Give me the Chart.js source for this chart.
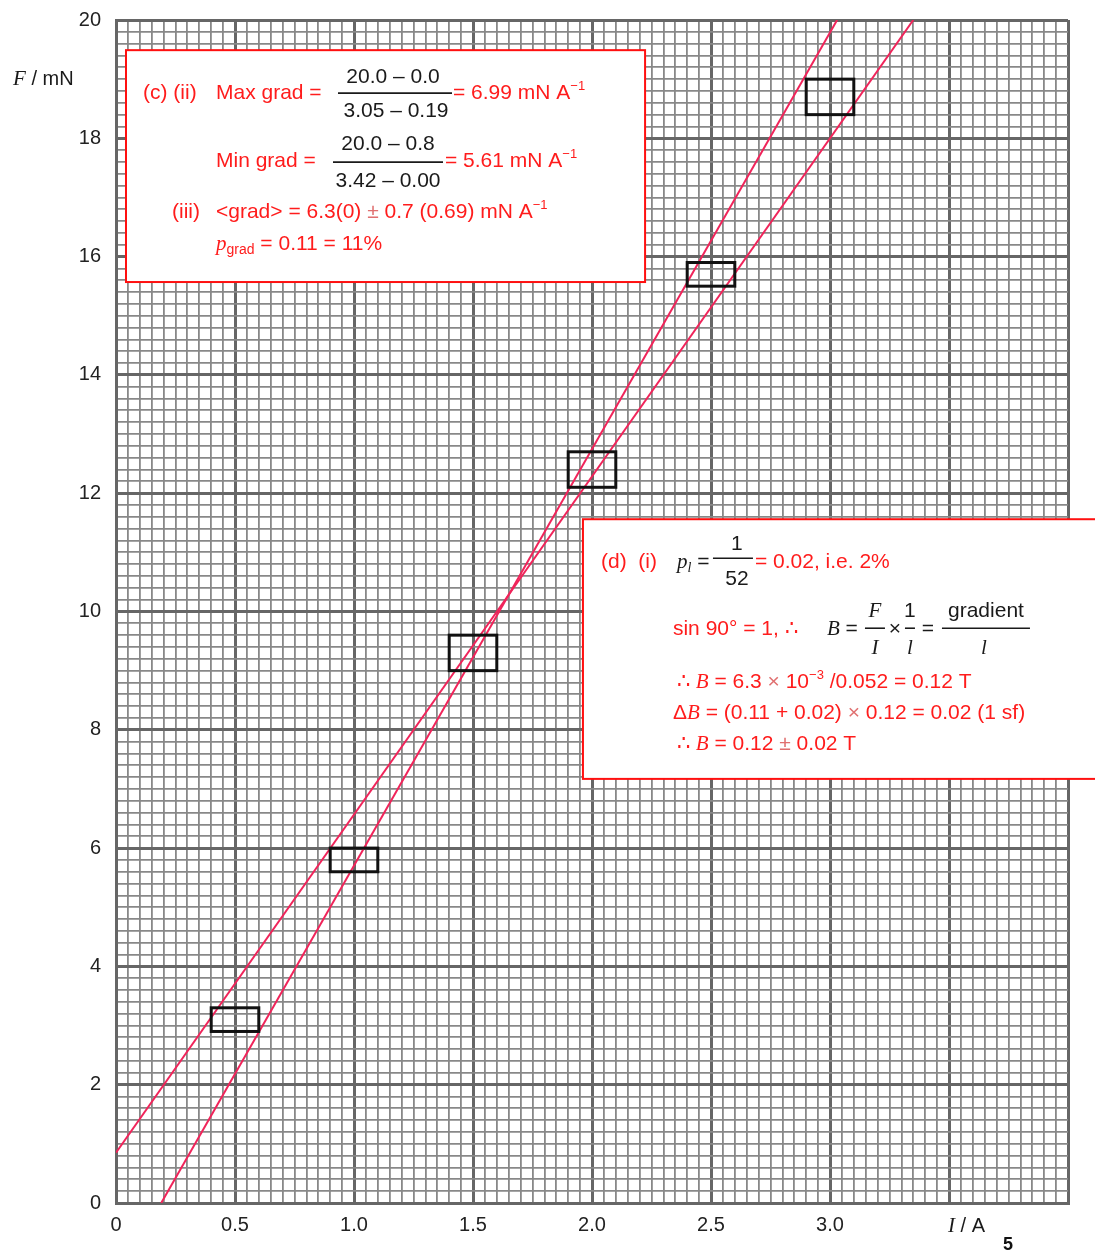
<!DOCTYPE html>
<html>
<head>
<meta charset="utf-8">
<script src="https://cdn.jsdelivr.net/npm/chart.js@4.4.1/dist/chart.umd.min.js"></script>
<style>
  html, body { margin: 0; padding: 0; background: #fff; }
  #wrap { width: 1095px; height: 1258px; position: relative; }
</style>
</head>
<body>
<div id="wrap"><canvas id="canvas"></canvas></div>
<script>
// measured points (current I / A, force F / mN) and their uncertainty boxes
var current = [0.5, 1.0, 1.5, 2.0, 2.5, 3.0];
var force = [3.1, 5.8, 9.3, 12.4, 15.7, 18.7];
var currentErr = [0.1, 0.1, 0.1, 0.1, 0.1, 0.1];
var forceErr = [0.2, 0.2, 0.3, 0.3, 0.2, 0.3];

// max / min gradient lines (end points)
var maxLineI = [0.19, 3.03];
var maxLineF = [0.0, 20.0];
var minLineI = [0.0, 3.35];
var minLineF = [0.85, 20.0];

// tick labels
var xTickLabels = ["0", "0.5", "1.0", "1.5", "2.0", "2.5", "3.0"];
var yTickLabels = ["0", "2", "4", "6", "8", "10", "12", "14", "16", "18", "20"];

var RED = "#ff1c1c";
var LINE_RED = "#f0245a";
var INK = "#1a1a1a";
var SANS = '"Liberation Sans", Arial, sans-serif';
var SERIF = '"Liberation Serif", "Times New Roman", serif';

function toPoints(xs, ys) {
	var pts = [];
	for (var i = 0; i < xs.length; i++) pts.push({ x: xs[i], y: ys[i] });
	return pts;
}

function isMultiple(v, step) {
	var r = v / step;
	return Math.abs(r - Math.round(r)) < 1e-6;
}

// draw text pieces one after the other: [text, font, color, dy]
function run(ctx, x, y, parts) {
	for (var i = 0; i < parts.length; i++) {
		var p = parts[i];
		ctx.font = p[1];
		ctx.fillStyle = p[2] || RED;
		ctx.fillText(p[0], x, y + (p[3] || 0));
		x += ctx.measureText(p[0]).width;
	}
	return x;
}

function centred(ctx, text, font, color, cx, y) {
	ctx.font = font;
	ctx.fillStyle = color;
	var w = ctx.measureText(text).width;
	ctx.fillText(text, cx - w / 2, y);
}

function bar(ctx, x1, x2, y) {
	ctx.strokeStyle = INK;
	ctx.lineWidth = 1.6;
	ctx.beginPath();
	ctx.moveTo(x1, y);
	ctx.lineTo(x2, y);
	ctx.stroke();
}

var f21 = "21px " + SANS;
var f13 = "13px " + SANS;
var i21 = "italic 21px " + SERIF;
var i14 = "italic 14px " + SERIF;

// uncertainty rectangles
var errorBoxes = {
	id: "errorBoxes",
	afterDatasetsDraw: function(chart) {
		var ctx = chart.ctx, xs = chart.scales.x, ys = chart.scales.y;
		ctx.save();
		ctx.strokeStyle = "#111";
		ctx.lineWidth = 3;
		for (var i = 0; i < current.length; i++) {
			var l = xs.getPixelForValue(current[i] - currentErr[i]);
			var r = xs.getPixelForValue(current[i] + currentErr[i]);
			var t = ys.getPixelForValue(force[i] + forceErr[i]);
			var b = ys.getPixelForValue(force[i] - forceErr[i]);
			ctx.strokeRect(l, t, r - l, b - t);
		}
		ctx.restore();
	}
};

// worked answers written on the graph
var notes = {
	id: "notes",
	afterDraw: function(chart) {
		var ctx = chart.ctx, xs = chart.scales.x, ys = chart.scales.y;
		ctx.save();
		ctx.textBaseline = "alphabetic";

		// axis titles
		run(ctx, 13, 85, [["F", "italic 21px " + SERIF, INK], [" / mN", "20px " + SANS, INK]]);
		run(ctx, 948, 1232, [["I", "italic 21px " + SERIF, INK], [" / A", "20px " + SANS, INK]]);
		run(ctx, 1003, 1250, [["5", "bold 18px " + SANS, "#111"]]);

		// box (c)
		var L = xs.getPixelForValue(0.042), T = ys.getPixelForValue(19.49);
		var R = xs.getPixelForValue(2.223), B = ys.getPixelForValue(15.57);
		ctx.fillStyle = "#fff";
		ctx.fillRect(L, T, R - L, B - T);
		ctx.strokeStyle = "#ff1010";
		ctx.lineWidth = 2;
		ctx.strokeRect(L, T, R - L, B - T);

		run(ctx, L + 17, T + 49, [["(c) (ii)", f21]]);
		run(ctx, L + 90, T + 49, [["Max grad =", f21]]);
		centred(ctx, "20.0 \u2013 0.0", f21, INK, L + 267, T + 33);
		bar(ctx, L + 212, L + 326, T + 43);
		centred(ctx, "3.05 \u2013 0.19", f21, INK, L + 270, T + 67);
		run(ctx, L + 327, T + 49, [["= 6.99 mN A", f21], ["\u22121", f13, RED, -9]]);

		run(ctx, L + 90, T + 117, [["Min grad =", f21]]);
		centred(ctx, "20.0 \u2013 0.8", f21, INK, L + 262, T + 100);
		bar(ctx, L + 207, L + 317, T + 112);
		centred(ctx, "3.42 \u2013 0.00", f21, INK, L + 262, T + 137);
		run(ctx, L + 319, T + 117, [["= 5.61 mN A", f21], ["\u22121", f13, RED, -9]]);

		run(ctx, L + 46, T + 168, [["(iii)", f21]]);
		run(ctx, L + 90, T + 168, [["<grad> = 6.3(0) ", f21], ["\u00b1", f21, "#e07070"], [" 0.7 (0.69) mN A", f21], ["\u22121", f13, RED, -9]]);
		run(ctx, L + 90, T + 200, [["p", i21], ["grad", "14px " + SANS, RED, 4], [" = 0.11 = 11%", f21]]);

		// box (d)
		L = xs.getPixelForValue(1.962); T = ys.getPixelForValue(11.56);
		R = xs.getPixelForValue(4.2); B = ys.getPixelForValue(7.17);
		ctx.fillStyle = "#fff";
		ctx.fillRect(L, T, R - L, B - T);
		ctx.strokeStyle = "#ff1010";
		ctx.lineWidth = 2;
		ctx.strokeRect(L, T, R - L, B - T);

		run(ctx, L + 18, T + 49, [["(d)  (i)", f21]]);
		run(ctx, L + 94, T + 49, [["p", i21, INK], ["l", i14, INK, 4], [" =", f21, INK]]);
		centred(ctx, "1", f21, INK, L + 154, T + 31);
		bar(ctx, L + 130, L + 170, T + 39);
		centred(ctx, "52", f21, INK, L + 154, T + 66);
		run(ctx, L + 172, T + 49, [["= 0.02, i.e. 2%", f21]]);

		run(ctx, L + 90, T + 116, [["sin 90\u00b0 = 1, \u2234", f21]]);
		run(ctx, L + 244, T + 116, [["B", i21, INK], [" =", f21, INK]]);
		centred(ctx, "F", i21, INK, L + 292, T + 98);
		bar(ctx, L + 282, L + 302, T + 109);
		centred(ctx, "I", i21, INK, L + 292, T + 135);
		centred(ctx, "\u00d7", f21, INK, L + 312, T + 116);
		centred(ctx, "1", f21, INK, L + 327, T + 98);
		bar(ctx, L + 322, L + 332, T + 109);
		centred(ctx, "l", i21, INK, L + 327, T + 135);
		centred(ctx, "=", f21, INK, L + 345, T + 116);
		centred(ctx, "gradient", f21, INK, L + 403, T + 98);
		bar(ctx, L + 359, L + 447, T + 109);
		centred(ctx, "l", i21, INK, L + 401, T + 135);

		run(ctx, L + 94, T + 169, [["\u2234 ", f21], ["B", i21], [" = 6.3 ", f21], ["\u00d7", f21, "#e07070"], [" 10", f21], ["\u22123", f13, RED, -9], [" /0.052 = 0.12 T", f21]]);
		run(ctx, L + 90, T + 200, [["\u0394", f21], ["B", i21], [" = (0.11 + 0.02) ", f21], ["\u00d7", f21, "#e07070"], [" 0.12 = 0.02 (1 sf)", f21]]);
		run(ctx, L + 94, T + 231, [["\u2234 ", f21], ["B", i21], [" = 0.12 ", f21], ["\u00b1", f21, "#e07070"], [" 0.02 T", f21]]);

		ctx.restore();
	}
};

function gridColor(step) {
	return function(c) {
		return c.tick && isMultiple(c.tick.value, step) ? "#666" : "#888";
	};
}
function gridWidth(step) {
	return function(c) {
		return c.tick && isMultiple(c.tick.value, step) ? 3 : 1.8;
	};
}

var ctx = document.getElementById("canvas").getContext("2d");
window.myChart = new Chart(ctx, {
	type: "scatter",
	data: {
		datasets: [{
			label: "max gradient",
			data: toPoints(maxLineI, maxLineF),
			showLine: true,
			borderColor: LINE_RED,
			borderWidth: 2,
			pointRadius: 0,
			fill: false
		}, {
			label: "min gradient",
			data: toPoints(minLineI, minLineF),
			showLine: true,
			borderColor: LINE_RED,
			borderWidth: 2,
			pointRadius: 0,
			fill: false
		}]
	},
	options: {
		responsive: true,
		maintainAspectRatio: false,
		animation: false,
		layout: { padding: { top: 20, right: 27, left: 0, bottom: 0 } },
		plugins: {
			legend: { display: false },
			tooltip: { enabled: false },
			title: { display: false }
		},
		scales: {
			x: {
				type: "linear",
				min: 0,
				max: 4,
				afterFit: function(s) { s.height = 55; s.paddingLeft = 0; s.paddingRight = 0; },
				border: { display: true, color: "#666", width: 3 },
				grid: { color: gridColor(0.5), lineWidth: gridWidth(0.5), drawTicks: false },
				ticks: {
					stepSize: 0.05,
					autoSkip: false,
					maxRotation: 0,
					minRotation: 0,
					padding: 10,
					color: "#222",
					font: { family: SANS, size: 20 },
					callback: function(v) {
						if (!isMultiple(v, 0.5)) return "";
						var k = Math.round(v / 0.5);
						return k < xTickLabels.length ? xTickLabels[k] : "";
					}
				}
			},
			y: {
				type: "linear",
				min: 0,
				max: 20,
				afterFit: function(s) { s.width = 116; s.paddingTop = 0; s.paddingBottom = 0; },
				border: { display: true, color: "#666", width: 3 },
				grid: { color: gridColor(2), lineWidth: gridWidth(2), drawTicks: false },
				ticks: {
					stepSize: 0.2,
					autoSkip: false,
					padding: 15,
					color: "#222",
					font: { family: SANS, size: 20 },
					callback: function(v) {
						if (!isMultiple(v, 2)) return "";
						var k = Math.round(v / 2);
						return k < yTickLabels.length ? yTickLabels[k] : "";
					}
				}
			}
		}
	},
	plugins: [errorBoxes, notes]
});
</script>
</body>
</html>
